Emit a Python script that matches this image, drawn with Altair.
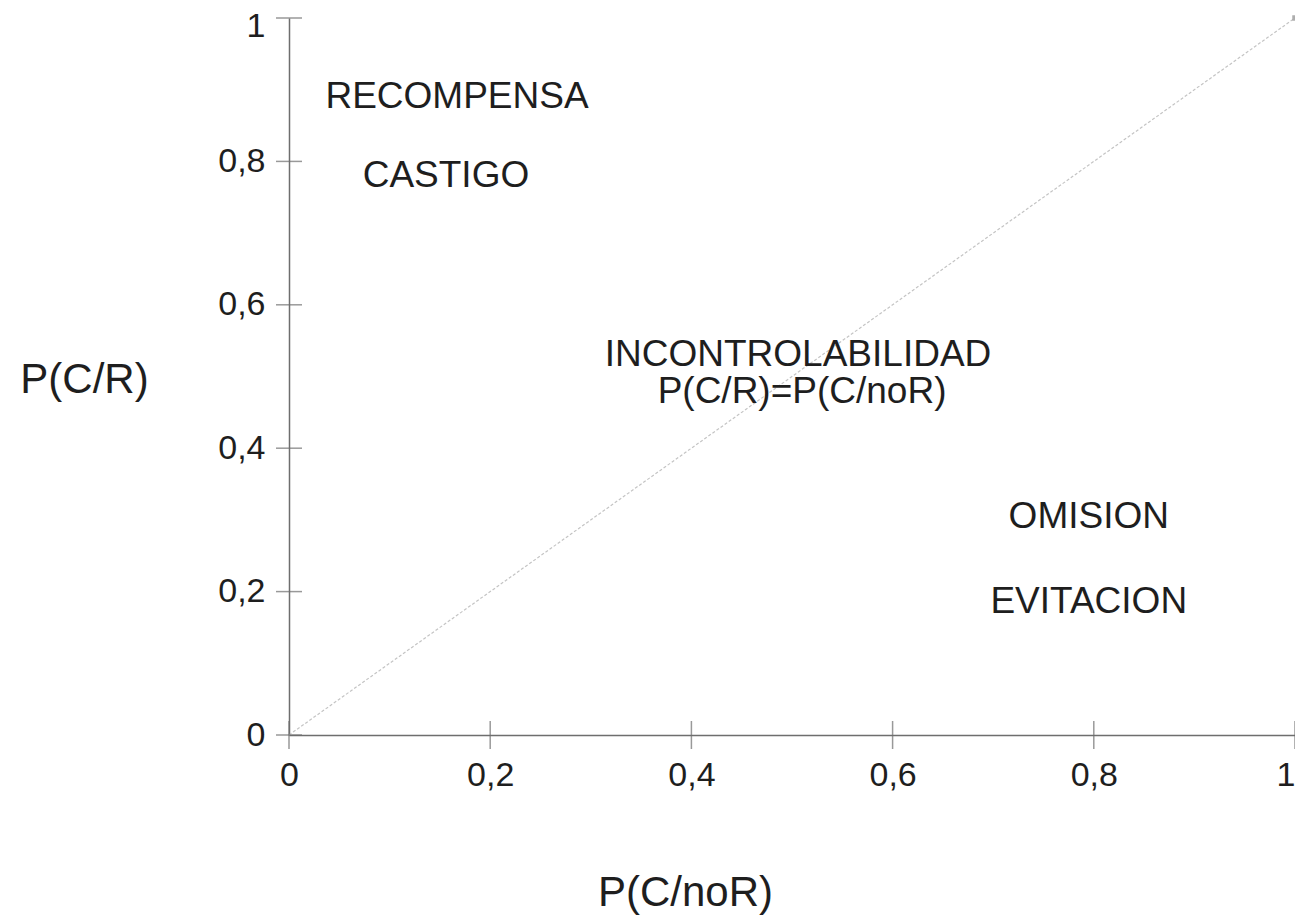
import altair as alt
import pandas as pd

# ---- data ----
tick_values = [0, 0.2, 0.4, 0.6, 0.8, 1]
diag_x = [0, 1]
diag_y = [0, 1]
marker_x = [1]
marker_y = [1]
ann_text = ["RECOMPENSA", "CASTIGO", "INCONTROLABILIDAD", "P(C/R)=P(C/noR)", "OMISION", "EVITACION"]
ann_x = [0.167, 0.156, 0.506, 0.510, 0.795, 0.795]
ann_y = [0.890, 0.780, 0.530, 0.478, 0.304, 0.185]

FONT = "Liberation Sans"
AXIS_COLOR = "#6e6e6e"
TEXT_COLOR = "#1e1e1e"

diag_df = pd.DataFrame({"x": diag_x, "y": diag_y})
marker_df = pd.DataFrame({"x": marker_x, "y": marker_y})
ann_df = pd.DataFrame({"text": ann_text, "x": ann_x, "y": ann_y})
ticks_df = pd.DataFrame({"v": tick_values})

label_expr = "replace(format(datum.value, '.1~f'), '.', ',')"

xscale = alt.Scale(domain=[0, 1], nice=False, zero=True)
yscale = alt.Scale(domain=[0, 1], nice=False, zero=True)

x_axis = alt.Axis(
    values=tick_values, labelExpr=label_expr, grid=False, ticks=False,
    domainColor=AXIS_COLOR, domainWidth=1.5,
    labelFont=FONT, labelFontSize=34, labelColor=TEXT_COLOR, labelPadding=23,
    labelFlush=False, labelBound=False,
    labelAlign=alt.condition("datum.value >= 1", alt.value("right"), alt.value("center")),
    title="P(C/noR)", titleFont=FONT, titleFontSize=42, titleFontWeight="normal",
    titleColor=TEXT_COLOR, titleX=396, titleY=157, titleAlign="center",
    titleBaseline="middle", titleAnchor="start",
)
y_axis = alt.Axis(
    values=tick_values, labelExpr=label_expr, grid=False, ticks=False,
    domainColor=AXIS_COLOR, domainWidth=1.5,
    labelFont=FONT, labelFontSize=34, labelColor=TEXT_COLOR, labelPadding=24,
    labelFlush=False, labelBound=False,
    labelOffset=alt.condition("datum.value >= 1", alt.value(8), alt.value(0)),
    title="P(C/R)", titleFont=FONT, titleFontSize=42, titleFontWeight="normal",
    titleColor=TEXT_COLOR, titleAngle=0, titleX=-205, titleY=361,
    titleAlign="center", titleBaseline="middle", titleAnchor="start",
)

diag = alt.Chart(diag_df).mark_line(color="#c4c4c4", strokeWidth=1.2, strokeDash=[3, 2]).encode(
    x=alt.X("x:Q", scale=xscale, axis=x_axis),
    y=alt.Y("y:Q", scale=yscale, axis=y_axis),
)

marker = alt.Chart(marker_df).mark_square(size=30, color="#9a9a9a", opacity=0.8).encode(
    x=alt.X("x:Q", scale=xscale),
    y=alt.Y("y:Q", scale=yscale),
)

xticks = alt.Chart(ticks_df).mark_tick(orient="vertical", size=28, thickness=1.5, color=AXIS_COLOR).encode(
    x=alt.X("v:Q", scale=xscale),
    y=alt.datum(0),
)
yticks = alt.Chart(ticks_df).mark_tick(orient="horizontal", size=26, thickness=1.5, color=AXIS_COLOR).encode(
    y=alt.Y("v:Q", scale=yscale),
    x=alt.datum(0),
)

ann = alt.Chart(ann_df).mark_text(font=FONT, fontSize=37, color=TEXT_COLOR, align="center", baseline="middle").encode(
    x=alt.X("x:Q", scale=xscale),
    y=alt.Y("y:Q", scale=yscale),
    text="text:N",
)

chart = alt.layer(diag, marker, xticks, yticks, ann).properties(
    width=1006, height=717,
    autosize=alt.AutoSizeParams(type="none"),
    padding={"left": 281, "top": 10, "right": 0, "bottom": 180},
    background="white",
).configure_view(stroke=None)

chart.save("out.html", embed_options={"renderer": "svg", "actions": False})
